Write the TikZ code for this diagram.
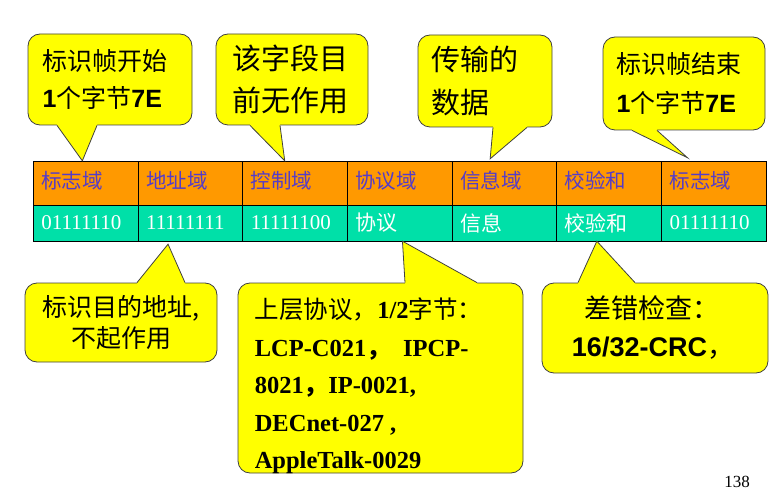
\documentclass[tikz,border=0pt]{standalone}
\usepackage{fontspec}
\setmainfont{Liberation Serif}
\setsansfont{Liberation Sans}
\newfontfamily\cjk{Noto Sans CJK SC}
\usetikzlibrary{calc,positioning}

\definecolor{fieldorange}{RGB}{255,153,0}
\definecolor{fieldgreen}{RGB}{0,224,168}
\definecolor{fieldtext}{RGB}{85,60,200}
\definecolor{bubbleyellow}{RGB}{255,255,0}
\definecolor{bubbleedge}{RGB}{64,64,64}

\tikzset{
  head/.style={draw,fill=fieldorange,minimum width=104.7pt,minimum height=44pt,
    text=fieldtext,font=\cjk\fontsize{20.5}{20.5}\selectfont,text width=88pt,
    align=left,inner sep=0pt},
  data/.style={draw,fill=fieldgreen,minimum width=104.7pt,minimum height=36pt,
    text=white,font=\fontsize{21}{21}\selectfont,text width=88pt,align=left,
    inner sep=0pt},
  bubble/.style={draw=bubbleedge,fill=bubbleyellow,rounded corners=12pt,
    line width=0.8pt,inner sep=0pt},
  bubbletext/.style={align=left,inner sep=0pt,font=\fontsize{24}{36}\selectfont},
  bubbleline/.style={draw=bubbleedge,line width=0.8pt},
}

% tail of a bubble: box, left x, right x, tip, side of box, shift into box
\newcommand{\bubbletail}[6]{%
  \fill[bubbleyellow] ([yshift=#6]#2,0 |- #1.#5) -- (#2,0 |- #1.#5) -- (#4)
    -- (#3,0 |- #1.#5) -- ([yshift=#6]#3,0 |- #1.#5) -- cycle;
  \draw[bubbleline] (#2,0 |- #1.#5) -- (#4) -- (#3,0 |- #1.#5);}

\begin{document}
\begin{tikzpicture}[x=1pt,y=-1pt]
  \useasboundingbox (0,0) rectangle (771,497);

  % the frame
  \foreach \name/\val [count=\i] in {标志域/01111110,地址域/11111111,
      控制域/11111100,协议域/{\cjk 协议},信息域/{\cjk 信息},
      校验和/{\cjk 校验和},标志域/01111110} {
    \node[head] (h\i) at ({33+104.7*(\i-0.5)},183) {\raisebox{6pt}{\name}};
    \node[data] (d\i) at ({33+104.7*(\i-0.5)},223) {\val};
  }

  \coordinate (p1) at ([xshift=-3pt]h1.north);
  \coordinate (p2) at ([xshift=-10pt]h3.north);
  \coordinate (p3) at ([xshift=-14pt,yshift=2pt]h5.north);
  \coordinate (p4) at ([xshift=-26pt,yshift=3pt]h7.north);
  \coordinate (p5) at ([xshift=-22pt,yshift=-3pt]d2.south);
  \coordinate (p6) at ([xshift=3pt]d4.south);
  \coordinate (p7) at ([xshift=-12pt]d6.south);

  % upper bubbles
  \node[bubble,minimum width=164pt,minimum height=91pt] (b1) at (110,79.5) {};
  \bubbletail{b1}{57}{97}{p1}{south}{2pt}
  \node[bubbletext,font=\cjk\fontsize{25}{37}\selectfont] (t1) at ([xshift=-5pt]b1.center)
    {标识帧开始\\\textsf{\bfseries 1}个字节\textsf{\bfseries 7E}};

  \node[bubble,minimum width=152pt,minimum height=91pt] (b2) at (292,79.5) {};
  \bubbletail{b2}{250}{280}{p2}{south}{2pt}
  \node[bubbletext,font=\cjk\fontsize{29}{42}\selectfont] (t2) at ([xshift=-2pt]b2.center)
    {该字段目\\前无作用};

  \node[bubble,minimum width=134pt,minimum height=92pt] (b3) at (485,81) {};
  \bubbletail{b3}{493}{527}{p3}{south}{2pt}
  \node[bubbletext,font=\cjk\fontsize{29}{43}\selectfont] (t3) at ([xshift=-10pt]b3.center)
    {传输的\\数据};

  \node[bubble,minimum width=162pt,minimum height=93pt] (b4) at (684,83.5) {};
  \bubbletail{b4}{632}{657}{p4}{south}{2pt}
  \node[bubbletext,font=\cjk\fontsize{25}{39}\selectfont] (t4) at ([xshift=-5pt]b4.center)
    {标识帧结束\\\textsf{\bfseries 1}个字节\textsf{\bfseries 7E}};

  % lower bubbles
  \node[bubble,minimum width=192pt,minimum height=79pt] (b5) at (121,322.5) {};
  \bubbletail{b5}{137}{185}{p5}{north}{-2pt}
  \node[bubbletext,align=center,font=\cjk\fontsize{25}{31}\selectfont] (t5) at (b5.center)
    {标识目的地址,\\不起作用};

  \node[bubble,minimum width=285pt,minimum height=190pt] (b6) at (380.5,378) {};
  \bubbletail{b6}{405}{477}{p6}{north}{-2pt}
  \node[bubbletext,font=\bfseries\fontsize{24.5}{37.5}\selectfont,anchor=north west] (t6)
    at ([xshift=17pt,yshift=-15pt]b6.north west)
    {{\cjk\mdseries 上层协议，}1/2{\cjk\mdseries 字节：}\\
     LCP-C021{\cjk ，}\ \ IPCP-\\
     8021{\cjk ，}IP-0021,\\
     DECnet-027 ,\\
     AppleTalk-0029};

  \node[bubble,minimum width=226pt,minimum height=90pt] (b7) at (655,328) {};
  \bubbletail{b7}{578}{635}{p7}{north}{-2pt}
  \node[bubbletext,font=\cjk\fontsize{27}{38}\selectfont] (t7) at ([xshift=-2pt]b7.center)
    {\ \ 差错检查：\\\textsf{\bfseries 16/32-CRC}，};

  \node[font=\fontsize{17}{17}\selectfont,inner sep=0pt] (page) at (737,482) {138};
\end{tikzpicture}
\end{document}
